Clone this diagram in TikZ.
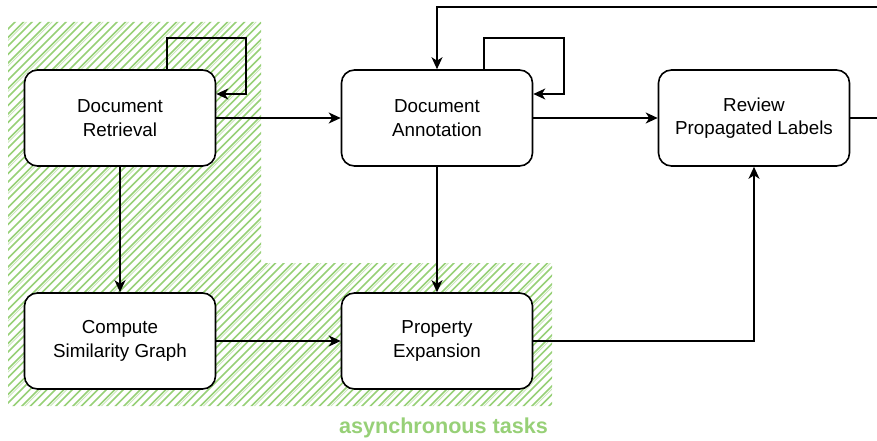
\documentclass[tikz,border=0pt]{standalone}
\usepackage{fontspec}
\setmainfont{Liberation Sans}
\usetikzlibrary{arrows.meta,calc}
\definecolor{hgreen}{HTML}{97D077}
\begin{document}
\begin{tikzpicture}[x=1pt,y=-1pt,
  box/.style={draw=black, line width=1.6pt, fill=white, rounded corners=13pt,
    minimum width=191pt, minimum height=96pt, inner sep=0pt, align=center,
    font=\fontsize{18.8}{23.5}\selectfont},
  arr/.style={draw=black, line width=1.5pt, -{Stealth[length=12pt,width=11pt,inset=3.5pt]}},
  hatchline/.style={draw=hgreen, line width=1.6pt},
  hatchthin/.style={draw=hgreen, line width=0.8pt, opacity=0.5},
  grouplabel/.style={text=hgreen, font=\bfseries\fontsize{21.6}{24}\selectfont, inner sep=0pt}
]
\useasboundingbox (0,0) rectangle (877,441);

% hatched asynchronous region
\begin{scope}
  \clip (8,22) -- (261,22) -- (261,263) -- (552,263) -- (552,406) -- (8,406) -- cycle;
  \foreach \x in {-390,-381.5,...,570} {
    \draw[hatchline] (\x,410) -- ++(392,-392);
  }
  \foreach \x in {-387,-361.5,...,570} {
    \draw[hatchthin] (\x,410) -- ++(392,-392);
  }
\end{scope}
\node[grouplabel, anchor=base] (async) at (443.5,433) {asynchronous tasks};

% nodes
\node[box] (ret) at (120,118) {Document\\Retrieval};
\node[box] (ann) at (437,118) {Document\\Annotation};
\node[box] (rev) at (754,118) {Review\\Propagated Labels};
\node[box] (sim) at (120,341) {Compute\\Similarity Graph};
\node[box] (prop) at (437,341) {Property\\Expansion};

% connectors
\draw[arr] ([xshift=47pt]ret.north) -- ++(0,-31) -- ++(79,0) |- ([yshift=24pt]ret.east);
\draw[arr] ([xshift=47pt]ann.north) -- ++(0,-31) -- ++(80,0) |- ([yshift=24pt]ann.east);
\draw[arr] (ret.east) -- (ann.west);
\draw[arr] (ann.east) -- (rev.west);
\draw[arr] (ret.south) -- (sim.north);
\draw[arr] (ann.south) -- (prop.north);
\draw[arr] (sim.east) -- (prop.west);
\draw[arr] (prop.east) -| (rev.south);
\coordinate (fbcorner) at (880,7);
\draw[arr] (rev.east) -| (fbcorner) -| (ann.north);
\end{tikzpicture}
\end{document}
